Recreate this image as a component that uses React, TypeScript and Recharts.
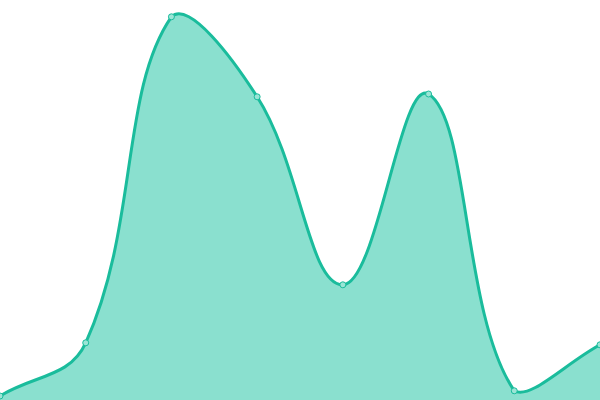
import { Area, AreaChart, XAxis, YAxis } from 'recharts'

// Punkte von links nach rechts, Werte auf einer 0–100 Skala
const categories = ['A', 'B', 'C', 'D', 'E', 'F', 'G', 'H']
const values = [1, 14.3, 95.8, 75.8, 28.8, 76.5, 2.3, 13.8]

const STROKE = '#1abc9c'
const FILL = '#8ae0cf'
const WIDTH = 600
const HEIGHT = 400

const data = categories.map((name, i) => ({ name, value: values[i] }))

// Spline wie bei Chart.js (tension + Kontrollpunkte auf die Zeichenfläche begrenzt)
function splineCurve(tension: number, w: number, h: number) {
  const clamp = (v: number, lo: number, hi: number) => Math.max(lo, Math.min(hi, v))
  return (context: any) => {
    let pts: number[][] = []
    let line = NaN
    return {
      areaStart() { line = 0 },
      areaEnd() { line = NaN },
      lineStart() { pts = [] },
      point(x: number, y: number) { pts.push([+x, +y]) },
      lineEnd() {
        const n = pts.length
        if (n > 0) {
          const cp: number[][][] = pts.map((cur, i) => {
            const prev = pts[i - 1] || cur
            const next = pts[i + 1] || cur
            const d01 = Math.hypot(cur[0] - prev[0], cur[1] - prev[1])
            const d12 = Math.hypot(next[0] - cur[0], next[1] - cur[1])
            let s01 = d01 / (d01 + d12)
            let s12 = d12 / (d01 + d12)
            if (!isFinite(s01)) s01 = 0
            if (!isFinite(s12)) s12 = 0
            const fa = tension * s01
            const fb = tension * s12
            const dx = next[0] - prev[0]
            const dy = next[1] - prev[1]
            return [
              [clamp(cur[0] - fa * dx, 0, w), clamp(cur[1] - fa * dy, 0, h)],
              [clamp(cur[0] + fb * dx, 0, w), clamp(cur[1] + fb * dy, 0, h)],
            ]
          })
          if (line) context.lineTo(pts[0][0], pts[0][1])
          else context.moveTo(pts[0][0], pts[0][1])
          for (let i = 0; i < n - 1; i++) {
            const a = cp[i][1]
            const b = cp[i + 1][0]
            context.bezierCurveTo(a[0], a[1], b[0], b[1], pts[i + 1][0], pts[i + 1][1])
          }
        }
        if (line || (line !== 0 && n === 1)) context.closePath()
        line = 1 - line
      },
    }
  }
}

const curve = splineCurve(0.4, WIDTH, HEIGHT)

export default function App() {
  return (
    <div style={{ position: 'absolute', top: 0, left: 0, width: WIDTH, height: HEIGHT }}>
      <AreaChart width={WIDTH} height={HEIGHT} data={data} margin={{ top: 0, right: 0, left: 0, bottom: 0 }}>
        <XAxis dataKey="name" hide />
        <YAxis hide domain={[0, 100]} />
        <Area
          type={curve as any}
          dataKey="value"
          stroke={STROKE}
          strokeWidth={3}
          fill={FILL}
          fillOpacity={1}
          dot={{ r: 3, fill: '#9be5d6', stroke: STROKE, strokeWidth: 1, fillOpacity: 1 }}
          activeDot={false}
          isAnimationActive={false}
        />
      </AreaChart>
    </div>
  )
}
